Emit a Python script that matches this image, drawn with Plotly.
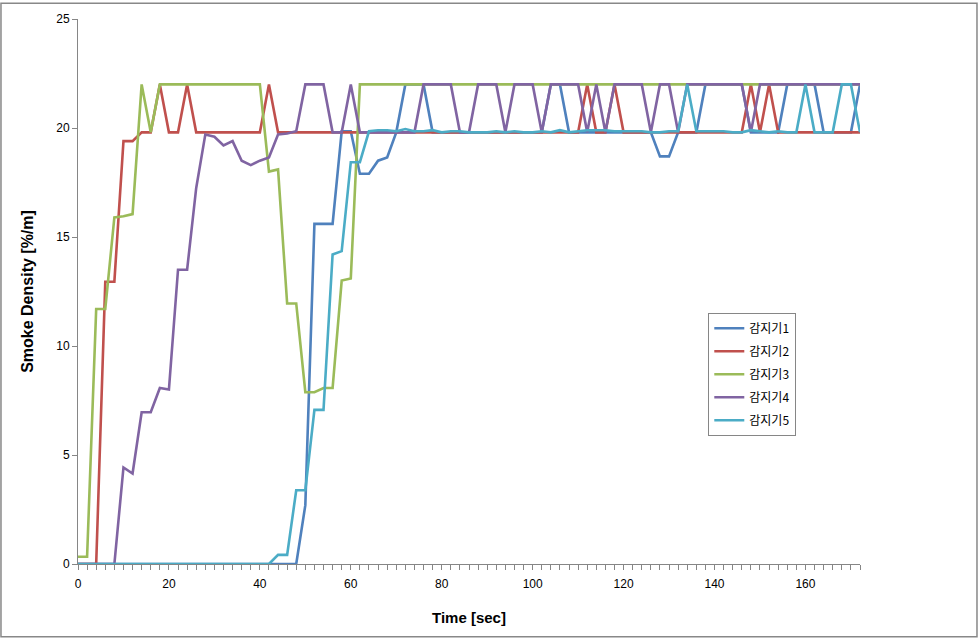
import plotly.graph_objects as go

# time axis (sec), one sample every 2 s
time_sec = [0, 2, 4, 6, 8, 10, 12, 14, 16, 18, 20, 22, 24, 26, 28, 30, 32, 34, 36, 38,
            40, 42, 44, 46, 48, 50, 52, 54, 56, 58, 60, 62, 64, 66, 68, 70, 72, 74, 76, 78,
            80, 82, 84, 86, 88, 90, 92, 94, 96, 98, 100, 102, 104, 106, 108, 110, 112, 114,
            116, 118, 120, 122, 124, 126, 128, 130, 132, 134, 136, 138, 140, 142, 144, 146,
            148, 150, 152, 154, 156, 158, 160, 162, 164, 166, 168, 170, 172]

det1 = ([0] * 25 + [2.7] + [15.6] * 3 + [19.85, 19.85, 17.9, 17.9, 18.5, 18.65, 19.8]
        + [22] * 3 + [19.8] * 13 + [22, 22] + [19.8] * 10 + [18.7, 18.7] + [19.8] * 3
        + [22] * 5 + [19.8] * 4 + [22] * 4 + [19.8] * 4 + [22])

det2 = ([0] * 3 + [12.95, 12.95, 19.4, 19.4, 19.8, 19.8, 22, 19.8, 19.8, 22]
        + [19.8] * 8 + [22] + [19.8] * 34 + [22, 19.8, 19.8, 22] + [19.8] * 14
        + [22, 19.8, 22] + [19.8] * 10)

det3 = ([0.33, 0.33, 11.7, 11.7, 15.9, 15.95, 16.05, 22, 19.8] + [22] * 12
        + [18.0, 18.1, 11.95, 11.95, 7.88, 7.88, 8.07, 8.07, 13.0, 13.1] + [22] * 56)

det4 = ([0] * 5 + [4.43, 4.15, 6.96, 6.96, 8.07, 8.0, 13.5, 13.5, 17.25, 19.7, 19.6,
                   19.2, 19.4, 18.5, 18.3, 18.5, 18.65, 19.7, 19.75, 19.85]
        + [22] * 3 + [19.8] * 2 + [22] + [19.8] * 7 + [22] * 4 + [19.8] * 2 + [22] * 3
        + [19.8] + [22] * 3 + [19.8] + [22] * 4 + [19.8, 22, 19.8] + [22] * 4 + [19.8]
        + [22] * 2 + [19.8] + [22] * 7 + [19.8] + [22] * 12)

det5 = ([0] * 22 + [0.42, 0.42, 3.38, 3.38, 7.07, 7.07, 14.2, 14.35, 18.43, 18.43, 19.85]
        + [19.9, 19.9, 19.85, 19.95, 19.85, 19.85, 19.9, 19.8, 19.85, 19.85, 19.8, 19.8,
           19.8, 19.85, 19.8, 19.85, 19.8, 19.8, 19.85, 19.8, 19.9, 19.8, 19.85, 19.9,
           19.9, 19.9, 19.85, 19.85, 19.85, 19.85, 19.8, 19.8, 19.85, 19.85]
        + [22] + [19.85, 19.85, 19.85, 19.85, 19.8, 19.8, 19.9, 19.85, 19.8, 19.85, 19.8, 19.8]
        + [22, 19.8, 19.8, 19.8, 22, 22, 19.8])

names = ["감지기1", "감지기2", "감지기3", "감지기4", "감지기5"]
colors = ["#4F81BD", "#C0504D", "#9BBB59", "#8064A2", "#4BACC6"]
series = [det1, det2, det3, det4, det5]

x_ticks = [0, 20, 40, 60, 80, 100, 120, 140, 160]
y_ticks = [0, 5, 10, 15, 20, 25]

fig = go.Figure()
for name, col, vals in zip(names, colors, series):
    fig.add_trace(go.Scatter(x=time_sec, y=vals, name=name, mode="lines",
                             legendgroup=name,
                             line=dict(color=col, width=2.6)))

axis_grey = "#868686"
fig.update_layout(
    width=978, height=639,
    margin=dict(l=78, r=118, t=17, b=75),
    paper_bgcolor="white", plot_bgcolor="white",
    font=dict(family="Liberation Sans, Arial", size=12, color="black"),
    xaxis=dict(range=[0, 172], tickvals=x_ticks, ticks="outside", ticklen=5,
               tickcolor=axis_grey, showline=True, linecolor=axis_grey, linewidth=1,
               showgrid=False, zeroline=False, ticklabelstandoff=4,
               minor=dict(dtick=2, ticks="outside", ticklen=5, tickcolor=axis_grey),
               title=dict(text="<b>Time [sec]</b>", font=dict(size=15), standoff=22)),
    yaxis=dict(range=[0, 25], tickvals=y_ticks, ticks="outside", ticklen=5,
               tickcolor=axis_grey, showline=True, linecolor=axis_grey, linewidth=1,
               showgrid=False, zeroline=False,
               title=dict(text="<b>Smoke Density [%/m]</b>", font=dict(size=16), standoff=18)),
    legend=dict(x=0.806, y=0.461, xanchor="left", yanchor="top",
                bgcolor="white", bordercolor=axis_grey, borderwidth=1,
                tracegroupgap=4,
                font=dict(family="Noto Sans CJK KR", size=12)),
    shapes=[dict(type="rect", xref="paper", yref="paper",
                 x0=-0.0985, x1=1.1496, y0=-0.1335, y1=1.029,
                 line=dict(color="#888888", width=1.5))],
)

# drop the page's default body margin so the chart sits at the window origin
fig.write_html("out.html", config={"displayModeBar": False},
               post_script="document.body.style.margin='0';")
